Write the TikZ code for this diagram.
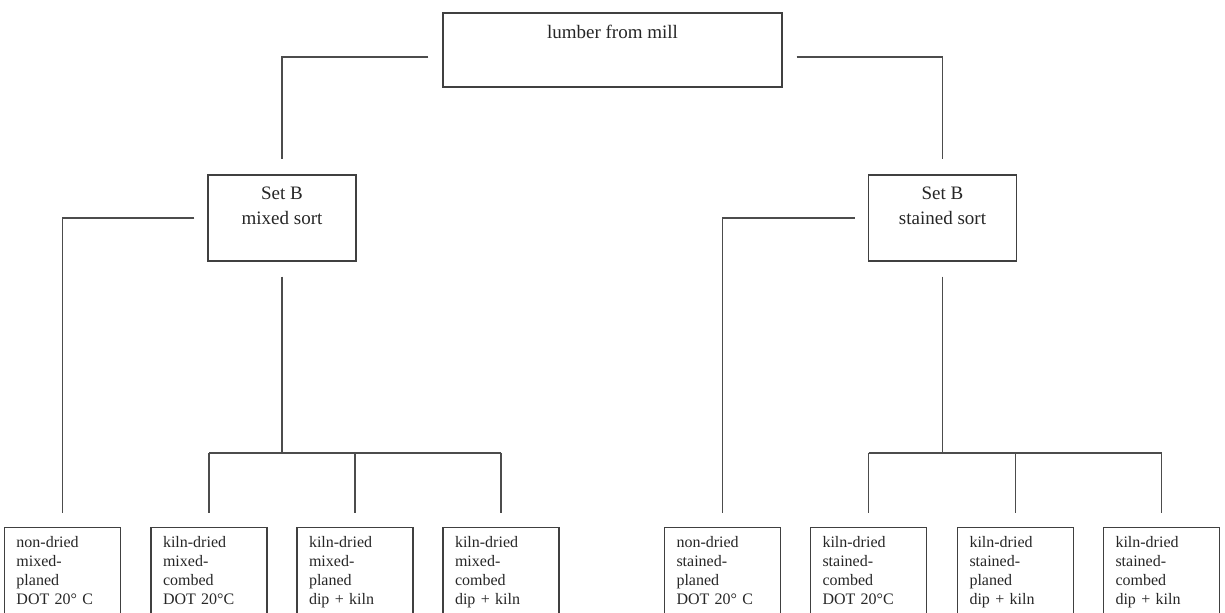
\documentclass[tikz,border=0pt]{standalone}
\usepackage{fontspec}
\setmainfont{Liberation Serif}
\usetikzlibrary{calc}
\tikzset{
  link/.style={draw=black!70, line width=0.6pt},
  rootbox/.style={draw=black!75, line width=0.7pt, text=black!85, minimum width=169.5pt, minimum height=37pt, align=center, font=\fontsize{9.5}{12.5}\selectfont},
  sortbox/.style={draw=black!75, line width=0.7pt, text=black!85, minimum width=74pt, minimum height=43pt, align=center, font=\fontsize{9.5}{12.5}\selectfont},
  leaf/.style={draw=black!75, line width=0.7pt, text=black!85, anchor=north, text width=46pt, inner xsep=6pt, inner ysep=4.5pt, align=left, font=\fontsize{8}{9.5}\selectfont}
}
\begin{document}
\begin{tikzpicture}[x=0.5pt,y=-0.5pt]
  \clip (0,0) rectangle (1225,613);
  \node[rootbox] (lumber) at (612.5,50) {lumber from mill\\[5.5pt]\mbox{}};
  \node[sortbox] (mixed) at (282,218) {Set B\\mixed sort\\\mbox{}};
  \node[sortbox] (stained) at (942.5,218) {Set B\\stained sort\\\mbox{}};

  \node[leaf] (mixA) at (62.5,527) {non-dried\\mixed-\\planed\\DOT 20° C\\\mbox{}};
  \node[leaf] (mixB) at (209,527) {kiln-dried\\mixed-\\combed\\DOT 20°C\\\mbox{}};
  \node[leaf] (mixC) at (355,527) {kiln-dried\\mixed-\\planed\\dip + kiln\\\mbox{}};
  \node[leaf] (mixD) at (501,527) {kiln-dried\\mixed-\\combed\\dip + kiln\\\mbox{}};
  \node[leaf] (stA) at (722.5,527) {non-dried\\stained-\\planed\\DOT 20° C\\\mbox{}};
  \node[leaf] (stB) at (868.5,527) {kiln-dried\\stained-\\combed\\DOT 20°C\\\mbox{}};
  \node[leaf] (stC) at (1015.5,527) {kiln-dried\\stained-\\planed\\dip + kiln\\\mbox{}};
  \node[leaf] (stD) at (1161.5,527) {kiln-dried\\stained-\\combed\\dip + kiln\\\mbox{}};

  \coordinate (forkm) at (282,453);
  \coordinate (forks) at (942.5,453);

  \draw[link, shorten <=7pt, shorten >=7.5pt] ($(lumber.west)+(0,7)$) -| (mixed.north);
  \draw[link, shorten <=7pt, shorten >=7.5pt] ($(lumber.east)+(0,7)$) -| (stained.north);

  \draw[link, shorten <=6.5pt, shorten >=7pt] (mixed.west) -| (mixA.north);
  \draw[link, shorten <=6.5pt, shorten >=7pt] (stained.west) -| (stA.north);

  \draw[link, shorten <=7.5pt] (mixed.south) -- (forkm);
  \draw[link] (forkm -| mixB.north) -- (forkm -| mixD.north);
  \foreach \n in {mixB,mixC,mixD}
    \draw[link, shorten >=7pt] (forkm -| \n.north) -- (\n.north);

  \draw[link, shorten <=7.5pt] (stained.south) -- (forks);
  \draw[link] (forks -| stB.north) -- (forks -| stD.north);
  \foreach \n in {stB,stC,stD}
    \draw[link, shorten >=7pt] (forks -| \n.north) -- (\n.north);
\end{tikzpicture}
\end{document}
